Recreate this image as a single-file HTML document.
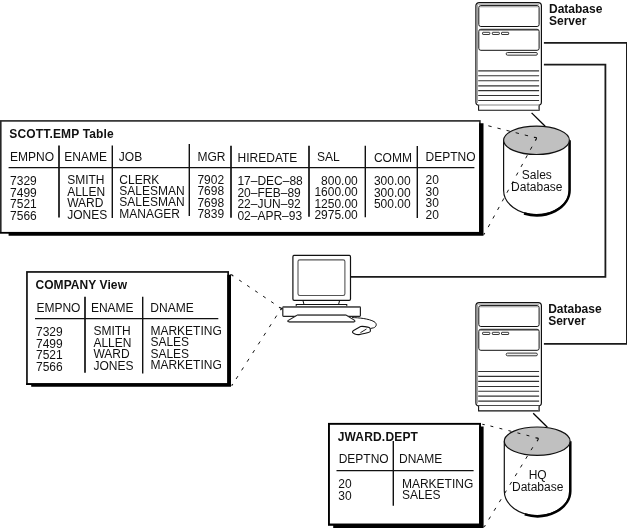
<!DOCTYPE html>
<html><head><meta charset="utf-8"><style>
html,body{margin:0;padding:0;background:#fff;}
svg{display:block;will-change:transform;}
text{font-family:"Liberation Sans", sans-serif;fill:#111;}
</style></head><body>
<svg width="627" height="528" viewBox="0 0 627 528">
<path d="M543.9 42.9 H626.9 V343.8 H543.9" fill="none" stroke="#1a1a1a" stroke-width="1.8"/>
<path d="M543.9 64.7 H605.4 V276.9 H351" fill="none" stroke="#1a1a1a" stroke-width="1.8"/>
<rect x="475.9" y="2.6" width="65.5" height="102.70" rx="3.2" fill="#fff" stroke="#111" stroke-width="1.2"/>
<path d="M477.4 103.0 V5 Q477.4 4.2 478.6 4.2 H539" stroke="#999" stroke-width="1" fill="none"/>
<rect x="478.8" y="5.6" width="60.3" height="20.9" rx="2" fill="#fff" stroke="#111" stroke-width="1"/>
<path d="M480 6.8 H538" stroke="#999" stroke-width="1"/>
<rect x="478.8" y="29.3" width="60.3" height="21" rx="2" fill="#fff" stroke="#111" stroke-width="1"/>
<path d="M480 30.5 H538" stroke="#999" stroke-width="1"/>
<rect x="482.6" y="32.3" width="7.2" height="2.2" rx="0.5" fill="#fff" stroke="#222" stroke-width="0.9"/>
<rect x="492.3" y="32.3" width="7.0" height="2.2" rx="0.5" fill="#fff" stroke="#222" stroke-width="0.9"/>
<rect x="501.5" y="32.3" width="7.2" height="2.2" rx="0.5" fill="#fff" stroke="#222" stroke-width="0.9"/>
<rect x="506.2" y="52.5" width="31.2" height="2.7" rx="1.3" fill="#eee" stroke="#222" stroke-width="0.9"/>
<path d="M478.2 70.9 H539.1" stroke="#333" stroke-width="1.1"/>
<path d="M478.2 75.8 H539.1" stroke="#333" stroke-width="1.1"/>
<path d="M478.2 80.8 H539.1" stroke="#333" stroke-width="1.1"/>
<path d="M478.2 85.9 H539.1" stroke="#333" stroke-width="1.1"/>
<path d="M478.2 90.6 H539.1" stroke="#333" stroke-width="1.1"/>
<path d="M478.2 95.5 H539.1" stroke="#333" stroke-width="1.1"/>
<path d="M478.2 100.5 H539.1" stroke="#333" stroke-width="1.1"/>
<path d="M478.6 105.3 V110.3 H539.2 V105.3" fill="#fff" stroke="#111" stroke-width="1.1"/>
<path d="M538.6 106.0 V110.0" stroke="#888" stroke-width="1.2"/>
<rect x="475.9" y="302.6" width="65.5" height="103.30" rx="3.2" fill="#fff" stroke="#111" stroke-width="1.2"/>
<path d="M477.4 403.6 V305 Q477.4 304.2 478.6 304.2 H539" stroke="#999" stroke-width="1" fill="none"/>
<rect x="478.8" y="305.6" width="60.3" height="20.9" rx="2" fill="#fff" stroke="#111" stroke-width="1"/>
<path d="M480 306.8 H538" stroke="#999" stroke-width="1"/>
<rect x="478.8" y="329.3" width="60.3" height="21" rx="2" fill="#fff" stroke="#111" stroke-width="1"/>
<path d="M480 330.5 H538" stroke="#999" stroke-width="1"/>
<rect x="482.6" y="332.3" width="7.2" height="2.2" rx="0.5" fill="#fff" stroke="#222" stroke-width="0.9"/>
<rect x="492.3" y="332.3" width="7.0" height="2.2" rx="0.5" fill="#fff" stroke="#222" stroke-width="0.9"/>
<rect x="501.5" y="332.3" width="7.2" height="2.2" rx="0.5" fill="#fff" stroke="#222" stroke-width="0.9"/>
<rect x="506.2" y="353.1" width="31.2" height="2.7" rx="1.3" fill="#eee" stroke="#222" stroke-width="0.9"/>
<path d="M478.2 371.5 H539.1" stroke="#333" stroke-width="1.1"/>
<path d="M478.2 376.4 H539.1" stroke="#333" stroke-width="1.1"/>
<path d="M478.2 381.4 H539.1" stroke="#333" stroke-width="1.1"/>
<path d="M478.2 386.5 H539.1" stroke="#333" stroke-width="1.1"/>
<path d="M478.2 391.2 H539.1" stroke="#333" stroke-width="1.1"/>
<path d="M478.2 396.1 H539.1" stroke="#333" stroke-width="1.1"/>
<path d="M478.2 401.1 H539.1" stroke="#333" stroke-width="1.1"/>
<path d="M478.6 405.9 V410.9 H539.2 V405.9" fill="#fff" stroke="#111" stroke-width="1.1"/>
<path d="M538.6 406.6 V410.6" stroke="#888" stroke-width="1.2"/>
<path d="M531.6 112.9 L545.2 126.2" stroke="#000" stroke-width="1.3"/>
<path d="M533.2 413.2 L547.4 427.2" stroke="#000" stroke-width="1.3"/>
<path d="M503.6 140.3 V190.2 A32.9 24.5 0 0 0 569.4 190.2 V140.3" fill="#fff" stroke="#111" stroke-width="1.2"/>
<path d="M569.6 140.3 V190.2 A33.1 25.0 0 0 1 524.06 213.52" fill="none" stroke="#000" stroke-width="2.5"/>
<ellipse cx="536.5" cy="140.3" rx="32.9" ry="14.2" fill="#c0c0c0" stroke="#111" stroke-width="1.2"/>
<path d="M504.30000000000007 441.2 V491.1 A32.9 24.5 0 0 0 570.1 491.1 V441.2" fill="#fff" stroke="#111" stroke-width="1.2"/>
<path d="M570.3000000000001 441.2 V491.1 A33.1 25.0 0 0 1 524.76 514.42" fill="none" stroke="#000" stroke-width="2.5"/>
<ellipse cx="537.2" cy="441.2" rx="32.9" ry="14.2" fill="#c0c0c0" stroke="#111" stroke-width="1.2"/>
<text x="549" y="12.8" font-weight="bold" font-size="12">Database</text>
<text x="549" y="25" font-weight="bold" font-size="12">Server</text>
<text x="548.2" y="313.2" font-weight="bold" font-size="12">Database</text>
<text x="548.2" y="324.9" font-weight="bold" font-size="12">Server</text>
<text x="536.8" y="179.4" text-anchor="middle" font-size="12">Sales</text>
<text x="536.8" y="190.7" text-anchor="middle" font-size="12">Database</text>
<text x="537.7" y="478.7" text-anchor="middle" font-size="12">HQ</text>
<text x="537.7" y="490.9" text-anchor="middle" font-size="12">Database</text>
<rect x="0.80" y="120.90" width="479.10" height="111.80" fill="#fff" stroke="#262626" stroke-width="1.6"/>
<path d="M479.10 123.3 H483.50 V235.80 H8.6 V233.5 H0.0 V231.90 H479.10 Z" fill="#000"/>
<text x="9.3" y="138" font-weight="bold" letter-spacing="0.16" font-size="12">SCOTT.EMP Table</text>
<text x="10.1" y="161.1" font-size="12">EMPNO</text>
<text x="64.3" y="161.1" font-size="12">ENAME</text>
<text x="118.8" y="160.9" font-size="12">JOB</text>
<text x="197.5" y="160.9" font-size="12">MGR</text>
<text x="237.6" y="162.2" font-size="12">HIREDATE</text>
<text x="317" y="161.4" font-size="12">SAL</text>
<text x="373.9" y="161.8" font-size="12">COMM</text>
<text x="425.6" y="161.3" font-size="12">DEPTNO</text>
<path d="M59.0 145.5 V217.6" stroke="#111" stroke-width="1.7"/>
<path d="M112.3 145.6 V218.1" stroke="#111" stroke-width="1.4"/>
<path d="M189.3 143.9 V216.0" stroke="#111" stroke-width="1.4"/>
<path d="M231.0 145.7 V217.8" stroke="#111" stroke-width="1.7"/>
<path d="M309.0 145.7 V216.8" stroke="#111" stroke-width="1.7"/>
<path d="M365.3 145.7 V217.2" stroke="#111" stroke-width="1.4"/>
<path d="M417.3 146.1 V218.0" stroke="#111" stroke-width="1.4"/>
<path d="M8.6 167.6 H474.4" stroke="#111" stroke-width="1.1"/>
<text x="10.1" y="185.4" font-size="12">7329</text>
<text x="67.2" y="184.0" font-size="12">SMITH</text>
<text x="119.3" y="183.5" font-size="12">CLERK</text>
<text x="197.4" y="183.9" font-size="12">7902</text>
<text x="237.4" y="185.0" font-size="12">17–DEC–88</text>
<text x="357.8" y="184.7" text-anchor="end" font-size="12">800.00</text>
<text x="373.9" y="185.0" font-size="12">300.00</text>
<text x="425.5" y="184.4" font-size="12">20</text>
<text x="10.1" y="196.85" font-size="12">7499</text>
<text x="67.2" y="195.5" font-size="12">ALLEN</text>
<text x="119.3" y="194.9" font-size="12">SALESMAN</text>
<text x="197.4" y="195.3" font-size="12">7698</text>
<text x="237.4" y="196.6" font-size="12">20–FEB–89</text>
<text x="357.8" y="196.2" text-anchor="end" font-size="12">1600.00</text>
<text x="373.9" y="196.5" font-size="12">300.00</text>
<text x="425.5" y="195.85" font-size="12">30</text>
<text x="10.1" y="208.3" font-size="12">7521</text>
<text x="67.2" y="207.0" font-size="12">WARD</text>
<text x="119.3" y="206.3" font-size="12">SALESMAN</text>
<text x="197.4" y="206.7" font-size="12">7698</text>
<text x="237.4" y="208.2" font-size="12">22–JUN–92</text>
<text x="357.8" y="207.7" text-anchor="end" font-size="12">1250.00</text>
<text x="373.9" y="208.0" font-size="12">500.00</text>
<text x="425.5" y="207.3" font-size="12">30</text>
<text x="10.1" y="219.75" font-size="12">7566</text>
<text x="67.2" y="218.5" font-size="12">JONES</text>
<text x="119.3" y="217.7" font-size="12">MANAGER</text>
<text x="197.4" y="218.1" font-size="12">7839</text>
<text x="237.4" y="219.8" font-size="12">02–APR–93</text>
<text x="357.8" y="219.2" text-anchor="end" font-size="12">2975.00</text>
<text x="425.5" y="218.75" font-size="12">20</text>
<rect x="26.95" y="271.95" width="201.20" height="112.10" fill="#fff" stroke="#111" stroke-width="1.7"/>
<path d="M227.30 274.7 H231.00 V386.80 H31.2 V384.9 H26.1 V383.20 H227.30 Z" fill="#000"/>
<text x="35.4" y="288.6" font-weight="bold" letter-spacing="0.08" font-size="12">COMPANY View</text>
<text x="36.4" y="311.6" font-size="12">EMPNO</text>
<text x="90.9" y="311.6" font-size="12">ENAME</text>
<text x="150.3" y="311.6" font-size="12">DNAME</text>
<path d="M85.0 296.7 V372.8" stroke="#111" stroke-width="1.7"/>
<path d="M142.7 296.7 V373.4" stroke="#111" stroke-width="1.4"/>
<path d="M35 318.6 H218.3" stroke="#111" stroke-width="1.1"/>
<text x="36.0" y="336.2" font-size="12">7329</text>
<text x="93.4" y="335.2" font-size="12">SMITH</text>
<text x="150.4" y="334.9" font-size="12">MARKETING</text>
<text x="36.0" y="347.7" font-size="12">7499</text>
<text x="93.4" y="346.7" font-size="12">ALLEN</text>
<text x="150.4" y="346.35" font-size="12">SALES</text>
<text x="36.0" y="359.2" font-size="12">7521</text>
<text x="93.4" y="358.2" font-size="12">WARD</text>
<text x="150.4" y="357.8" font-size="12">SALES</text>
<text x="36.0" y="370.7" font-size="12">7566</text>
<text x="93.4" y="369.7" font-size="12">JONES</text>
<text x="150.4" y="369.25" font-size="12">MARKETING</text>
<rect x="328.95" y="423.85" width="151.10" height="100.80" fill="#fff" stroke="#000" stroke-width="1.9"/>
<path d="M479.10 426.5 H483.60 V528.20 H333.2 V525.6 H328.0 V523.70 H479.10 Z" fill="#000"/>
<text x="337.7" y="441.1" font-weight="bold" letter-spacing="0.17" font-size="12">JWARD.DEPT</text>
<text x="338.7" y="463.3" font-size="12">DEPTNO</text>
<text x="399.0" y="463.3" font-size="12">DNAME</text>
<path d="M393.3 441.1 V505.7" stroke="#111" stroke-width="1.4"/>
<path d="M336.5 470.6 H473.6" stroke="#111" stroke-width="1.1"/>
<text x="338.3" y="488.0" font-size="12">20</text>
<text x="338.3" y="499.6" font-size="12">30</text>
<text x="401.9" y="487.7" font-size="12">MARKETING</text>
<text x="401.9" y="499.3" font-size="12">SALES</text>

<rect x="292.9" y="255.4" width="57.6" height="44.9" rx="1.3" fill="#fff" stroke="#111" stroke-width="1.2"/>
<rect x="298.0" y="259.9" width="46.9" height="35.6" rx="1.7" fill="#fff" stroke="#555" stroke-width="1.1"/>
<path d="M302.9 300.4 L304 304.4 M339.6 300.4 L338.6 304.4" fill="none" stroke="#111" stroke-width="1"/>
<rect x="296.2" y="304.5" width="50.6" height="2.2" fill="#fff" stroke="#111" stroke-width="1"/>
<rect x="282.8" y="306.9" width="77.6" height="9.4" rx="0.8" fill="#fff" stroke="#222" stroke-width="1.2"/>
<path d="M283.5 307 H359.8" stroke="#666" stroke-width="1.6"/>
<path d="M297.4 315 H346 L354.6 320.4 Q355.4 321.8 354 321.8 H289 Q287.2 321.6 288 320.6 Z" fill="#fff" stroke="#222" stroke-width="1.1"/>
<path d="M297.6 315.2 H345.8" stroke="#666" stroke-width="1.6"/>
<path d="M289 322 H354" stroke="#666" stroke-width="1.7"/>
<path d="M352 317.6 C359 317.6 369 318.8 374 321.6 C377.6 323.6 376.4 327 373.6 327.8 L370.4 328.5" fill="none" stroke="#111" stroke-width="1"/>
<path d="M352.5 332.3 C352.2 331.4 353 330.8 354 330.2 L360.6 326.6 C361.8 326 368 326.9 369.2 327.4 C370.4 327.9 370.6 330.6 370.2 331.5 C369.4 332.5 362 334.3 359 334.6 C356 334.9 353 333.4 352.5 332.3 Z" fill="#fff" stroke="#111" stroke-width="1.1"/>
<path d="M360.4 332.7 L366.5 329" stroke="#222" stroke-width="1"/>

<path d="M488.30 125.80L491.60 126.63M497.42 128.09L500.71 128.92M506.53 130.39L509.83 131.22M515.65 132.68L518.94 133.51M524.76 134.98L528.06 135.81" fill="none" stroke="#111" stroke-width="1.0" stroke-linecap="butt"/>
<path d="M533.9 137.3 Q536.9 137.2 536.4 138.7 L535.3 140.6" fill="none" stroke="#111" stroke-width="1.2"/>
<path d="M532.00 146.70L530.37 149.69M527.31 155.31L525.69 158.29M522.63 163.91L521.00 166.90M517.94 172.52L516.32 175.51M513.26 181.13L511.63 184.11M508.57 189.74L506.94 192.72M503.88 198.34L502.26 201.33M499.20 206.95L497.57 209.94M494.51 215.56L492.89 218.54M489.83 224.16L488.20 227.15" fill="none" stroke="#111" stroke-width="1.0" stroke-linecap="butt"/>
<path d="M483.6 234.6 L484.8 233.0" fill="none" stroke="#111" stroke-width="1.1"/>
<path d="M490.40 426.00L493.31 426.74M499.41 428.29L502.32 429.03M508.43 430.59L511.33 431.33M517.44 432.88L520.35 433.62M526.45 435.17L529.36 435.91" fill="none" stroke="#111" stroke-width="1.0" stroke-linecap="butt"/>
<path d="M535.5 437.8 Q538.7 437.7 538.2 439.2 L537.1 441.3" fill="none" stroke="#111" stroke-width="1.2"/>
<path d="M532.80 447.25L531.03 450.15M527.51 455.91L525.74 458.82M522.23 464.58L520.46 467.48M516.94 473.24L515.17 476.15M511.66 481.91L509.88 484.81M506.37 490.57L504.60 493.48M501.08 499.24L499.31 502.14M495.80 507.90L494.03 510.81M490.51 516.57L488.74 519.47" fill="none" stroke="#111" stroke-width="1.0" stroke-linecap="butt"/>
<path d="M482.3 424.2 Q483.6 424.2 484.7 424.7" fill="none" stroke="#111" stroke-width="1.1"/>
<path d="M483.7 526.8 L485.5 525.3" fill="none" stroke="#111" stroke-width="1.1"/>
<path d="M239.10 280.00L241.67 281.73M247.10 285.39L249.67 287.13M255.10 290.79L257.67 292.52M263.10 296.18L265.67 297.92M271.11 301.58L273.68 303.31" fill="none" stroke="#111" stroke-width="1.0" stroke-linecap="butt"/>
<path d="M230.4 274.6 Q232.5 274.6 233.3 276.2" fill="none" stroke="#111" stroke-width="1.1"/>
<path d="M279 307.2 L281.9 308.5 L280.4 310.0" fill="none" stroke="#111" stroke-width="1.2"/>
<path d="M276.70 315.60L274.87 318.46M271.16 324.24L269.32 327.11M265.62 332.89L263.78 335.75M260.08 341.53L258.24 344.39M254.54 350.18L252.70 353.04M248.99 358.82L247.16 361.68M243.45 367.46L241.62 370.33M237.91 376.11L236.08 378.97" fill="none" stroke="#111" stroke-width="1.0" stroke-linecap="butt"/>
<path d="M231.6 385.6 L232.8 384.1" fill="none" stroke="#111" stroke-width="1.1"/>
</svg>
</body></html>
